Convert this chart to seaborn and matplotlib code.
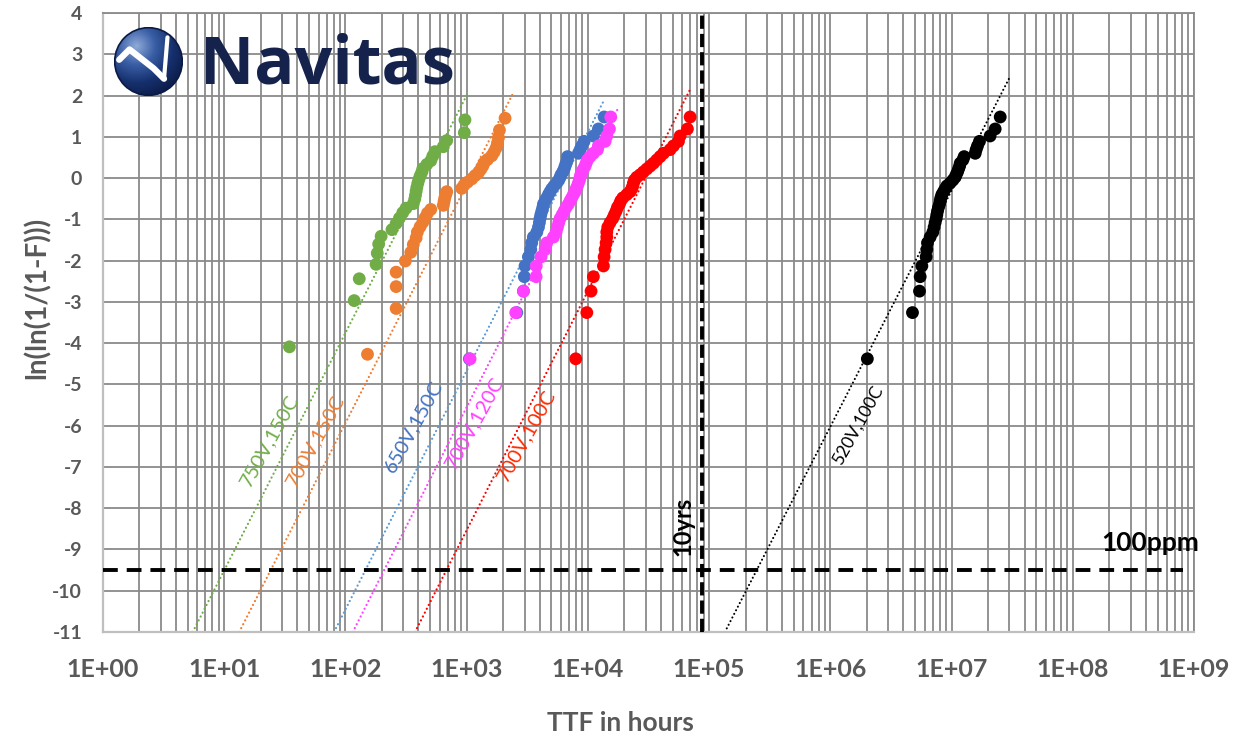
import numpy as np
import pandas as pd
import matplotlib
matplotlib.use("Agg")
import matplotlib.pyplot as plt
import matplotlib.ticker as mticker
from matplotlib.patches import Circle
import seaborn as sns

# ---------------- data ----------------
series_names = ["750V,150C", "700V,150C", "650V,150C", "700V,120C", "700V,100C", "520V,100C"]

g_hours = [34.5, 118, 130, 179, 183, 188, 197, 242, 262, 279, 297, 316, 363, 373, 378,
           383, 388, 395, 403, 413, 426, 435, 469, 506, 525, 548, 642, 685, 957, 968]
g_y = [-4.09, -2.97, -2.44, -2.09, -1.82, -1.60, -1.41, -1.25, -1.10, -0.97, -0.84, -0.73,
       -0.62, -0.51, -0.42, -0.32, -0.23, -0.13, -0.04, 0.05, 0.14, 0.23, 0.33, 0.42, 0.53,
       0.64, 0.76, 0.91, 1.10, 1.41]

o_hours = [152, 262, 262, 262, 312, 346, 363, 383, 392, 413, 435, 454, 475, 506, 642, 651,
           659, 672, 685, 910, 952, 1014, 1102, 1173, 1250, 1307, 1358, 1393, 1484, 1611,
           1683, 1749, 1795, 1830, 1864, 2074]
o_y = [-4.27, -3.16, -2.63, -2.28, -2.01, -1.80, -1.61, -1.45, -1.31, -1.18, -1.07, -0.96,
       -0.85, -0.76, -0.66, -0.57, -0.49, -0.41, -0.33, -0.25, -0.17, -0.10, -0.02, 0.06,
       0.13, 0.21, 0.29, 0.37, 0.45, 0.54, 0.63, 0.73, 0.85, 0.98, 1.16, 1.45]

y40 = [-4.38, -3.26, -2.74, -2.39, -2.13, -1.91, -1.73, -1.57, -1.43, -1.31, -1.19, -1.08,
       -0.98, -0.89, -0.80, -0.71, -0.63, -0.55, -0.48, -0.40, -0.33, -0.26, -0.19, -0.12,
       -0.05, 0.02, 0.08, 0.15, 0.22, 0.29, 0.36, 0.44, 0.52, 0.60, 0.69, 0.78, 0.89, 1.02,
       1.19, 1.48]

b_hours = [1052, 2590, 2940, 2990, 3030, 3230, 3380, 3440, 3550, 3790, 3910, 3980, 4030,
           4090, 4170, 4250, 4300, 4440, 4580, 4730, 4880, 5040, 5260, 5540, 5750, 5900,
           6010, 6210, 6370, 6490, 6610, 6780, 6800, 8350, 8630, 8910, 9310, 11100, 12210,
           13610]
b_y = y40

p_hours = [1067, 2540, 2940, 3740, 3750, 4110, 4440, 4580, 5200, 5470, 5610, 5750, 5900,
           6130, 6370, 6610, 6910, 7130, 7360, 7590, 7840, 7990, 8190, 8350, 8520, 8630,
           8740, 8910, 9190, 9480, 9660, 9910, 10420, 11100, 11990, 12210, 13870, 14320,
           15060, 15440]
p_y = y40

r_hours = [7940, 9800, 10620, 11100, 13430, 13610, 13870, 14140, 14320, 14320, 14590, 15240,
           16030, 16540, 17090, 17530, 18210, 18680, 19410, 20940, 22290, 23000, 23460,
           23760, 24220, 25310, 26960, 28720, 30610, 32600, 34730, 37010, 39420, 42000,
           47680, 50790, 55860, 57660, 66240, 69710]
r_y = y40

k_hours = [2.02e6, 4.76e6, 5.44e6, 5.51e6, 5.69e6, 6.17e6, 6.25e6, 6.33e6, 6.66e6, 7.01e6,
           7.18e6, 7.32e6, 7.47e6, 7.56e6, 7.66e6, 7.80e6, 7.96e6, 8.06e6, 8.16e6, 8.32e6,
           8.59e6, 8.86e6, 9.15e6, 9.73e6, 1.025e7, 1.071e7, 1.091e7, 1.12e7, 1.142e7,
           1.165e7, 1.179e7, 1.24e7, 1.27e7, 1.567e7, 1.596e7, 1.637e7, 1.70e7, 2.08e7,
           2.29e7, 2.52e7]
k_y = y40

# trend-line end points (hours, ln(ln(1/(1-F))))
trend_hours = [(5.5, 1002), (13.3, 2400), (80.5, 13600), (115, 17800), (375, 70600), (1.35e5, 2.99e7)]
trend_y = [(-11, 2.01), (-11, 2.04), (-11, 1.89), (-11, 1.70), (-11, 2.18), (-11, 2.42)]

ten_years_hours = 87600
ppm100_level = -9.5

x_tick_labels = ["1E+00", "1E+01", "1E+02", "1E+03", "1E+04", "1E+05", "1E+06", "1E+07", "1E+08", "1E+09"]
y_ticks = list(range(-11, 5))

# ---------------- styling ----------------
point_colors = ["#70AD47", "#ED7D31", "#4472C4", "#FF40FF", "#FF0000", "#000000"]
line_colors = ["#70AD47", "#ED7D31", "#5B9BD5", "#FF40FF", "#FF0000", "#000000"]
label_colors = ["#70AD47", "#ED7D31", "#4472C4", "#FF40FF", "#FF2A00", "#000000"]
label_pos = [(23.4, -6.35), (56.2, -6.37), (361, -6.03), (1150, -5.93), (3090, -6.23), (1.7e6, -5.98)]

sns.set_theme(style="white")
plt.rcParams["font.family"] = ["Lato", "DejaVu Sans"]
plt.rcParams["axes.unicode_minus"] = False

W, H = 1250, 737
fig = plt.figure(figsize=(W / 100, H / 100), dpi=100)
ax = fig.add_axes([103 / W, (H - 632) / H, (1194 - 103) / W, (632 - 13) / H])

all_hours = [g_hours, o_hours, b_hours, p_hours, r_hours, k_hours]
all_y = [g_y, o_y, b_y, p_y, r_y, k_y]
frames = []
for name, hh, yy in zip(series_names, all_hours, all_y):
    frames.append(pd.DataFrame({"series": name, "hours": hh, "y": yy}))
df = pd.concat(frames, ignore_index=True)

ax.set_xscale("log")

# trend lines
for i, name in enumerate(series_names):
    lw = 1.6 if i < 5 else 1.5
    ax.plot(trend_hours[i], trend_y[i], color=line_colors[i], lw=lw,
            linestyle=(0, (0.05, 1.9)), dash_capstyle="round", zorder=2)

sns.scatterplot(data=df, x="hours", y="y", hue="series", hue_order=series_names,
                palette=point_colors, s=85, linewidth=0, legend=False, ax=ax, zorder=3)

# reference lines
ax.axvline(ten_years_hours, color="black", lw=2.8, linestyle=(0, (3.4, 1.3)), zorder=4)
ax.axhline(ppm100_level, xmax=0.99, color="black", lw=2.8, linestyle=(0, (3.8, 2.3)), zorder=4)

ax.set_xlim(1, 1e9)
ax.set_ylim(-11, 4)
ax.xaxis.set_major_locator(mticker.FixedLocator([10.0 ** k for k in range(10)]))
ax.xaxis.set_major_formatter(mticker.FixedFormatter(x_tick_labels))
ax.xaxis.set_minor_locator(mticker.LogLocator(base=10, subs=np.arange(2, 10), numticks=100))
ax.xaxis.set_minor_formatter(mticker.NullFormatter())
ax.set_yticks(y_ticks)

grid_c = "#8A8A8A"
ax.grid(which="both", axis="x", color=grid_c, lw=1.3, zorder=0)
ax.grid(which="major", axis="y", color=grid_c, lw=1.3, zorder=0)
ax.set_axisbelow(True)
for s in ["top", "right"]:
    ax.spines[s].set_color(grid_c)
    ax.spines[s].set_linewidth(1.3)
for s in ["left", "bottom"]:
    ax.spines[s].set_color("#BFBFBF")
    ax.spines[s].set_linewidth(1.6)

tick_c = "#595959"
ax.tick_params(axis="x", which="both", length=0, pad=19, labelsize=18, labelcolor=tick_c)
ax.tick_params(axis="y", which="both", length=0, pad=15, labelsize=14, labelcolor=tick_c)
for t in ax.get_xticklabels() + ax.get_yticklabels():
    t.set_fontweight("bold")

ax.set_xlabel("")
ax.set_ylabel("")
fig.text(620 / W, 1 - 723 / H, "TTF in hours", ha="center", va="center",
         fontsize=19, fontweight="bold", color=tick_c)
fig.text(37 / W, 1 - 298 / H, "ln(ln(1/(1-F)))", ha="center", va="center", rotation=90,
         fontsize=20, fontweight="bold", color=tick_c)

# series labels
for i, name in enumerate(series_names):
    fs = 14.5 if i < 5 else 12.5
    ax.text(label_pos[i][0], label_pos[i][1], name, color=label_colors[i], fontsize=fs,
            rotation=61, rotation_mode="anchor", ha="center", va="center", zorder=5)

# annotations
ax.text(61000, -9.16, "10yrs", rotation=90, ha="center", va="bottom", fontsize=17,
        fontweight="bold", color="black", zorder=5)
fig.text(1199 / W, 1 - 551 / H, "100ppm", ha="right", va="baseline", fontsize=19,
         fontweight="bold", color="black")

# logo
lax = fig.add_axes([114 / W, 1 - 96 / H, 69 / W, 69 / H])
lax.set_xlim(-1, 1)
lax.set_ylim(-1, 1)
lax.set_aspect("equal")
lax.axis("off")
gx, gy = np.meshgrid(np.linspace(-1, 1, 200), np.linspace(-1, 1, 200))
dist = np.sqrt((gx + 0.35) ** 2 + (gy - 0.45) ** 2)
img = np.clip(dist / 1.6, 0, 1)
cmap = matplotlib.colors.LinearSegmentedColormap.from_list("logo", ["#8FAAD8", "#3A5FA6", "#16306E", "#0B1A45"])
im = lax.imshow(img, extent=[-1, 1, -1, 1], origin="lower", cmap=cmap, zorder=1)
circ = Circle((0, 0), 0.98, transform=lax.transData, facecolor="none", edgecolor="#0B1A45", lw=1.2, zorder=3)
lax.add_patch(circ)
im.set_clip_path(circ)
lax.plot([-0.85, -0.55, 0.15, 0.45], [0.05, 0.35, -0.2, -0.5], color="white", lw=4.5,
         solid_capstyle="round", zorder=4)
lax.plot([0.45, 0.5, 0.55], [-0.5, 0.1, 0.7], color="white", lw=3.0, solid_capstyle="round", zorder=4)
fig.text(200 / W, 1 - 83 / H, "Navitas", ha="left", va="baseline", fontsize=48,
         fontweight="bold", color="#15234C", family=["Open Sans", "DejaVu Sans"])

fig.savefig("out.png", dpi=100, facecolor="white")
